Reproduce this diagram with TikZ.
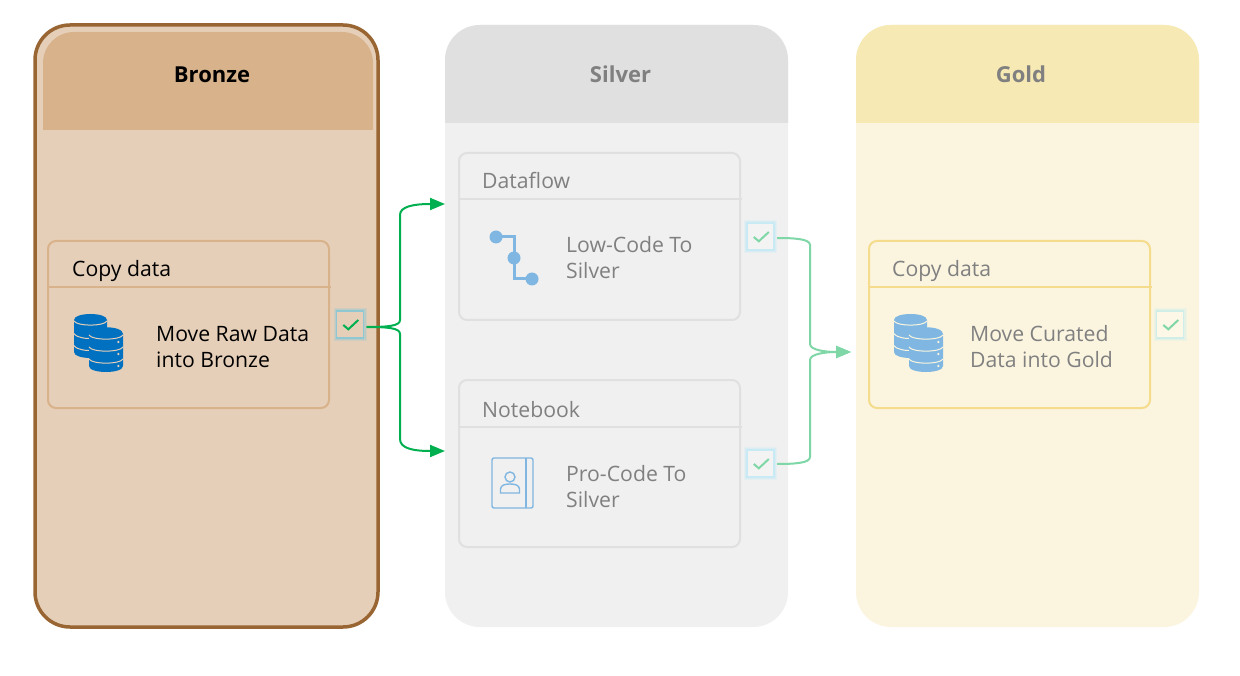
\documentclass[tikz,border=0pt]{standalone}
\usepackage{fontspec}
\setmainfont{Open Sans}
\usetikzlibrary{arrows.meta}
\definecolor{bronzeline}{HTML}{996633}
\definecolor{bronzebg}{HTML}{E6CFB8}
\definecolor{bronzehead}{HTML}{D8B28A}
\definecolor{silverbg}{HTML}{F0F0F0}
\definecolor{silverhead}{HTML}{E0E0E0}
\definecolor{goldbg}{HTML}{FBF5E0}
\definecolor{goldhead}{HTML}{F7E9B3}
\definecolor{goldline}{HTML}{F5DC8C}
\definecolor{fadetext}{HTML}{808080}
\definecolor{dbblue}{HTML}{0070C0}
\definecolor{fadeblue}{HTML}{7FB7E2}
\definecolor{green1}{HTML}{00B050}
\definecolor{green2}{HTML}{7FD7A7}
\definecolor{glowb}{HTML}{8FC8D2}
\definecolor{glows}{HTML}{C8EAF5}
\definecolor{glowg}{HTML}{D0EEE8}
\definecolor{chkfills}{HTML}{F3F3F3}
\definecolor{chkfillg}{HTML}{FCF7E6}
\tikzset{
  x=1pt,y=-1pt,
  stagebox/.style={rectangle,inner sep=0pt,outer sep=0pt,minimum width=343pt,minimum height=602pt,rounded corners=35pt,fill=#1},
  cardbox/.style={rectangle,inner sep=0pt,outer sep=0pt,minimum width=281pt,minimum height=167pt,rounded corners=8pt,line width=2pt,draw=#1},
  headtext/.style={font=\fontsize{22}{26}\selectfont\bfseries,inner sep=0pt},
  cardtext/.style={font=\fontsize{21.2}{26}\selectfont,inner sep=0pt,anchor=base west,align=left},
  checkbox/.style n args={2}{rectangle,inner sep=0pt,outer sep=3pt,minimum width=27pt,minimum height=27pt,draw=#1,fill=#2,line width=1.5pt,
    preaction={draw=#1,line width=6pt,draw opacity=.25},
    preaction={draw=#1,line width=4pt,draw opacity=.35}},
  flow/.style={line width=2pt,draw=#1,-{Triangle[length=15pt,width=12pt]}},
  pics/tick/.style={code={\draw[line width=2pt,draw=#1] (-6.7,0.5) -- (-1.7,4.8) -- (8.3,-4.5);}},
  pics/dbicon/.style 2 args={code={
    \fill[#1] (0,6) .. controls (0,-2) and (33,-2) .. (33,6) -- (33,38)
       .. controls (33,46) and (0,46) .. (0,38) -- cycle;
    \draw[#2,line width=1pt] (0,7) .. controls (3,12.5) and (30,12.5) .. (33,7);
    \draw[#2,line width=1pt] (0,19.5) .. controls (3,24.5) and (15,24.5) .. (15,24.5);
    \draw[#2,line width=1pt] (0,31.5) .. controls (3,36.5) and (15,36.5) .. (15,36.5);
    \fill[#1] (15,20) .. controls (15,11) and (49,11) .. (49,20) -- (49,52)
       .. controls (49,60) and (15,60) .. (15,52) -- cycle;
    \draw[#2,line width=1pt] (15,21) .. controls (18,26.5) and (46,26.5) .. (49,21);
    \draw[#2,line width=1pt] (15,33) .. controls (18,38.5) and (46,38.5) .. (49,33);
    \draw[#2,line width=1pt] (15,45) .. controls (18,50.5) and (46,50.5) .. (49,45);
    \fill[#2] (44.3,28) circle[radius=1.3pt] (44.3,40) circle[radius=1.3pt] (44.3,52) circle[radius=1.3pt];
  }},
}
\begin{document}
\begin{tikzpicture}
\useasboundingbox (0,0) rectangle (1240,676);
\fill[white] (0,0) rectangle (1240,676);

% stages
\node[stagebox=bronzebg,draw=bronzeline,line width=3.5pt] (bronze) at (206.5,326) {};
\node[stagebox=silverbg] (silver) at (616.5,326) {};
\node[stagebox=goldbg] (gold) at (1027.5,326) {};

% stage headers
\fill[bronzehead] (43,130) [rounded corners=31pt] -- (43,32) -- (373,32) [sharp corners] -- (373,130) -- cycle;
\fill[silverhead] (445,123) [rounded corners=35pt] -- (445,25) -- (788,25) [sharp corners] -- (788,123) -- cycle;
\fill[goldhead] (856,123) [rounded corners=35pt] -- (856,25) -- (1199,25) [sharp corners] -- (1199,123) -- cycle;
\node[headtext,text=black] (bronzetitle) at (212,74.5) {Bronze};
\node[headtext,text=fadetext] (silvertitle) at (620.5,74.5) {Silver};
\node[headtext,text=fadetext] (goldtitle) at (1021,74.5) {Gold};

% cards
\node[cardbox=bronzehead] (cardb) at (188.5,324.5) {};
\node[cardbox=silverhead] (cards1) at (599.5,236.5) {};
\node[cardbox=silverhead] (cards2) at (599.5,463.5) {};
\node[cardbox=goldline] (cardg) at (1009.5,324.5) {};
\draw[line width=2pt,bronzehead] (48,287) -- (331,287);
\draw[line width=2pt,silverhead] (459,199) -- (742,199);
\draw[line width=2pt,silverhead] (459,427) -- (742,427);
\draw[line width=2pt,goldline] (869,287) -- (1152,287);

% card texts
\node[cardtext,text=black] (tb1) at (72,277) {Copy data};
\node[cardtext,text=black] (tb2) at (156,367) {Move Raw Data\\into Bronze};
\node[cardtext,text=fadetext] (ts1) at (482,189) {Dataflow};
\node[cardtext,text=fadetext] (ts2) at (566,279) {Low-Code To\\Silver};
\node[cardtext,text=fadetext] (ts3) at (482,417) {Notebook};
\node[cardtext,text=fadetext] (ts4) at (566,507) {Pro-Code To\\Silver};
\node[cardtext,text=fadetext] (tg1) at (892,277) {Copy data};
\node[cardtext,text=fadetext] (tg2) at (970,367) {Move Curated\\Data into Gold};

% icons
\pic at (74,314) {dbicon={dbblue}{bronzebg}};
\pic at (894,314) {dbicon={fadeblue}{goldbg}};
\draw[fadeblue,line width=3pt] (496,237) -- (514,237) -- (514,279) -- (532,279);
\fill[fadeblue] (496,237) circle[radius=6.5pt] (514,258) circle[radius=6.5pt] (532,279) circle[radius=6.5pt];
\draw[fadeblue,line width=1.4pt,rounded corners=2pt] (492,458) rectangle (533,508);
\draw[fadeblue,line width=1.4pt] (526,458) -- (526,508);
\draw[fadeblue,line width=1.4pt] (510,477) circle[radius=5pt];
\draw[fadeblue,line width=1.4pt] (500.5,493) -- (500.5,489) .. controls (501,485) and (505,484) .. (510,484) .. controls (515,484) and (519,485) .. (519.5,489) -- (519.5,493) -- cycle;

% status boxes
\node[checkbox={glowb}{bronzebg}] (chkb) at (350,324.5) {};
\node[checkbox={glows}{chkfills}] (chks1) at (760.5,236.5) {};
\node[checkbox={glows}{chkfills}] (chks2) at (760.5,463.5) {};
\node[checkbox={glowg}{chkfillg}] (chkg) at (1170,324.5) {};
\pic at (chkb.center) {tick=green1};
\pic at (chks1.center) {tick=green2};
\pic at (chks2.center) {tick=green2};
\pic at (chkg.center) {tick=green2};

% connector ends
\coordinate (silvertop) at (445,204);
\coordinate (silverlow) at (445,451);
\coordinate (goldin) at (851,352);

% connectors
\draw[flow=green1] ([yshift=-2.5pt]chkb.east) .. controls (388,327) and (400,326) .. (400,320) -- (400,215)
  .. controls (400,207) and (412,204) .. (silvertop);
\draw[flow=green1] ([yshift=-2.5pt]chkb.east) .. controls (388,327) and (400,328) .. (400,334) -- (400,439)
  .. controls (400,448) and (412,451) .. (silverlow);
\draw[flow=green2] ([yshift=-1.5pt]chks1.east) .. controls (795,238) and (810,239) .. (810,245) -- (810,344)
  .. controls (810,350) and (825,352) .. (goldin);
\draw[flow=green2] ([yshift=-0.5pt]chks2.east) .. controls (795,464) and (810,463) .. (810,457) -- (810,360)
  .. controls (810,354) and (825,352) .. (goldin);
\end{tikzpicture}
\end{document}
